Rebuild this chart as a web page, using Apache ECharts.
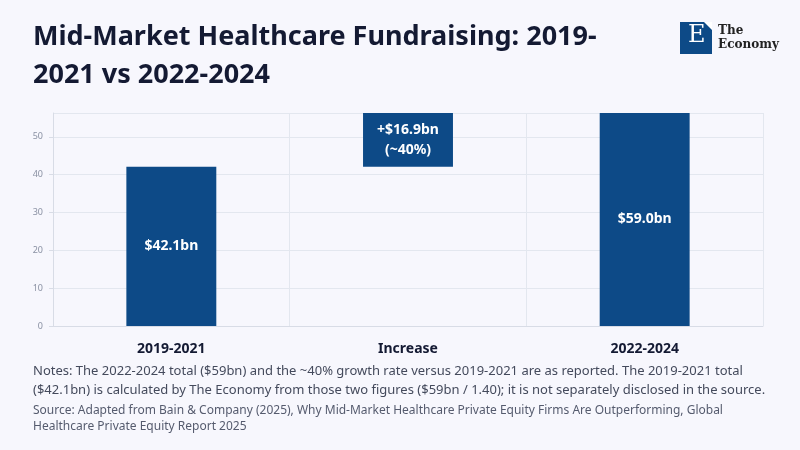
<!DOCTYPE html>
<html><head><meta charset="utf-8">
<script src="https://cdn.jsdelivr.net/npm/echarts@6/dist/echarts.min.js"></script>
<style>body{margin:0;background:#f7f7fd;}#c{width:800px;height:450px;}</style>
</head><body><div id="c"></div>
<script>
const categories = ['2019-2021', 'Increase', '2022-2024'];
const baseValues = [0, 42.1, 0];
const barValues = [42.1, 16.9, 59.0];
const barLabels = ['$42.1bn', '+$16.9bn\n(~40%)', '$59.0bn'];
const yTicks = [0, 10, 20, 30, 40, 50];

const chart = echarts.init(document.getElementById('c'));
const F = 'Noto Sans';
chart.setOption({
  backgroundColor: '#f7f7fd',
  textStyle: {fontFamily: F},
  graphic: [
    {type:'text', left:33, top:18, style:{text:'Mid-Market Healthcare Fundraising: 2019-\n2021 vs 2022-2024', font:'bold 27px "Noto Sans"', fill:'#141a33', lineHeight:38}},
    {type:'rect', left:680, top:22, shape:{width:32,height:32}, style:{fill:'#0d4a87'}},
    {type:'text', left:688, top:24, style:{text:'E', font:'24px "DejaVu Serif"', fill:'#fff'}},
    {type:'polygon', shape:{points:[[704,22],[712,22],[712,30]]}, style:{fill:'#fff'}},
    {type:'text', left:718, top:24, style:{text:'The\nEconomy', font:'bold 12px "DejaVu Serif"', fill:'#222', lineHeight:14}},
    {type:'text', left:33, top:362, style:{text:'Notes: The 2022-2024 total ($59bn) and the ~40% growth rate versus 2019-2021 are as reported. The 2019-2021 total\n($42.1bn) is calculated by The Economy from those two figures ($59bn / 1.40); it is not separately disclosed in the source.', font:'13px "Noto Sans"', fill:'#444a5c', lineHeight:19}},
    {type:'text', left:33, top:403, style:{text:'Source: Adapted from Bain & Company (2025), Why Mid-Market Healthcare Private Equity Firms Are Outperforming, Global\nHealthcare Private Equity Report 2025', font:'12px "Noto Sans"', fill:'#555b6e', lineHeight:16}}
  ],
  grid: {left:53, right:37, top:113, bottom:124},
  xAxis: {type:'category', data:categories,
    axisLine:{lineStyle:{color:'#d8dce6'}}, axisTick:{show:false},
    splitLine:{show:true, lineStyle:{color:'#e3e7ef'}},
    axisLabel:{color:'#141a33', fontWeight:'bold', fontSize:14, margin:16}},
  yAxis: {type:'value', min:0, max:56.3, interval:10,
    axisLine:{show:true, lineStyle:{color:'#d8dce6'}}, axisTick:{show:true, length:4, lineStyle:{color:'#d8dce6'}},
    splitLine:{lineStyle:{color:'#e3e7ef'}},
    axisLabel:{color:'#8a91a3', fontSize:9, showMaxLabel:false, margin:10}},
  series: [
    {type:'bar', stack:'w', data:baseValues, itemStyle:{color:'transparent'}, barWidth:'38%', silent:true},
    {type:'bar', stack:'w', data:barValues, barWidth:'38%', itemStyle:{color:'#0d4a87'},
     label:{show:true, position:'inside', color:'#fff', fontWeight:'bold', fontSize:14, lineHeight:20,
       formatter: p => barLabels[p.dataIndex]}}
  ]
});
</script></body></html>
